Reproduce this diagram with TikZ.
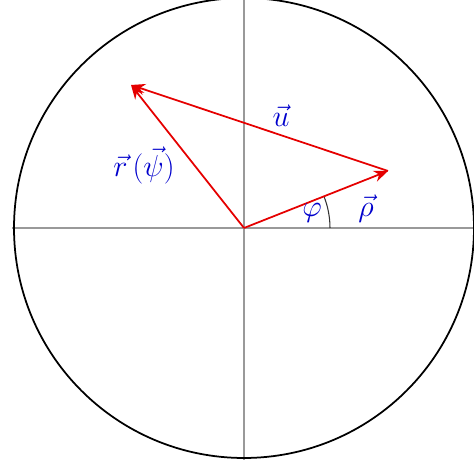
\documentclass[tikz,border=0pt]{standalone}
\usetikzlibrary{arrows.meta}
\begin{document}
\begin{tikzpicture}[x=0.02cm,y=0.02cm,
  axis/.style={gray!80, line width=0.8pt},
  rim/.style={black, line width=1pt},
  vec/.style={red!90!black, line width=1pt, -{Stealth[length=8pt,width=6.5pt]}},
  lbl/.style={text=blue!80!black, font=\fontsize{16}{18}\selectfont, inner sep=1pt}]
\useasboundingbox (-244,-237) rectangle (230,228);
\begin{scope}
\clip (-244,-237) rectangle (230,228);
\coordinate (O) at (0,0);
\coordinate (P) at (144,57);
\coordinate (R) at (-113,143);
\coordinate (W) at (-232,0);
\coordinate (E) at (232,0);
\coordinate (S) at (0,-232);
\coordinate (N) at (0,232);
\draw[axis] (W) -- (E);
\draw[axis] (S) -- (N);
\draw[rim] (O) circle (230);
\draw[black!80, line width=0.6pt] (86,0) arc (0:21.6:86);
\draw[vec] (O) -- (P);
\draw[vec] (P) -- (R);
\draw[vec] (O) -- (R);
\node[lbl] (u) at (37,112) {$\vec u$};
\node[lbl] (r) at (-100,63) {$\vec r\,\bigl(\vec \psi\bigr)$};
\node[lbl] (phi) at (68,15) {$\varphi$};
\node[lbl] (rho) at (122,19) {$\vec \rho$};
\end{scope}
\end{tikzpicture}
\end{document}
